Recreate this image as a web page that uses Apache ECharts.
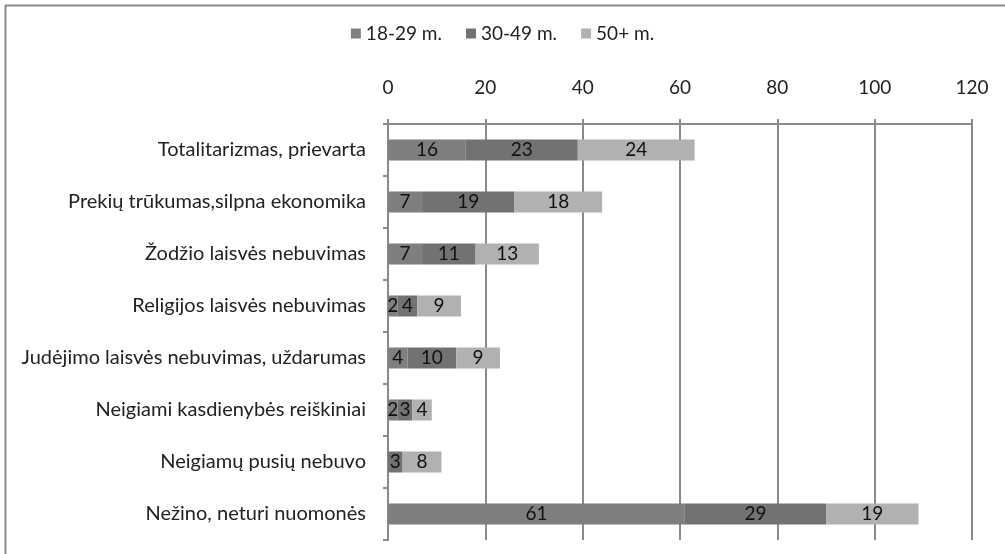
<!DOCTYPE html>
<html>
<head>
<meta charset="utf-8">
<script src="https://cdn.jsdelivr.net/npm/echarts@6/dist/echarts.min.js"></script>
<style>html,body{margin:0;padding:0;background:#fff}#c{width:1005px;height:554px}</style>
</head>
<body>
<div id="c"></div>
<script>
const categories = [
  'Totalitarizmas, prievarta',
  'Prekių trūkumas,silpna ekonomika',
  'Žodžio laisvės nebuvimas',
  'Religijos laisvės nebuvimas',
  'Judėjimo laisvės nebuvimas, uždarumas',
  'Neigiami kasdienybės reiškiniai',
  'Neigiamų pusių nebuvo',
  'Nežino, neturi nuomonės'
];
const seriesNames = ['18-29 m.', '30-49 m.', '50+ m.'];
const age18_29 = [16, 7, 7, 2, 4, 2, 0, 61];
const age30_49 = [23, 19, 11, 4, 10, 3, 3, 29];
const age50plus = [24, 18, 13, 9, 9, 4, 8, 19];
const xTicks = {min: 0, max: 120, interval: 20};

const colors = ['#7f7f7f', '#727272', '#b1b1b1'];
const FONT = 'Lato, "Open Sans", sans-serif';
const chart = echarts.init(document.getElementById('c'), null, {renderer: 'canvas'});
const dataSets = [age18_29, age30_49, age50plus];
chart.setOption({
  animation: false,
  textStyle: {fontFamily: FONT},
  legend: {
    data: seriesNames,
    top: 19,
    left: 'center',
    itemWidth: 10,
    itemHeight: 10,
    itemGap: 24,
    icon: 'rect',
    textStyle: {fontSize: 19, color: '#222', fontFamily: FONT}
  },
  graphic: [
    {type: 'line', shape: {x1: 5, y1: 5.5, x2: 1005, y2: 5.5}, style: {stroke: '#888', lineWidth: 2}},
    {type: 'line', shape: {x1: 5.5, y1: 5, x2: 5.5, y2: 554}, style: {stroke: '#888', lineWidth: 2}}
  ],
  grid: {left: 388, right: 33, top: 124, bottom: 14, containLabel: false},
  xAxis: {
    type: 'value',
    position: 'top',
    min: xTicks.min, max: xTicks.max, interval: xTicks.interval,
    axisLine: {show: true, lineStyle: {color: '#8a8a8a', width: 2}},
    axisTick: {show: true, length: 5, lineStyle: {color: '#8a8a8a', width: 2}},
    splitLine: {show: true, lineStyle: {color: '#8a8a8a', width: 2}},
    axisLabel: {fontSize: 19, color: '#222', margin: 27, fontFamily: FONT}
  },
  yAxis: {
    type: 'category',
    inverse: true,
    data: categories,
    axisLine: {show: true, lineStyle: {color: '#8a8a8a', width: 2}},
    axisTick: {show: true, length: 5, lineStyle: {color: '#8a8a8a', width: 2}},
    axisLabel: {fontSize: 20, color: '#222', margin: 22, fontFamily: FONT}
  },
  series: seriesNames.map((n, i) => ({
    name: n,
    type: 'bar',
    stack: 'total',
    barWidth: 21,
    itemStyle: {color: colors[i]},
    label: {
      show: true,
      position: 'inside',
      color: '#111',
      fontSize: 19,
      fontFamily: FONT,
      formatter: p => p.value === 0 ? '' : p.value
    },
    data: dataSets[i]
  }))
});
</script>
</body>
</html>
